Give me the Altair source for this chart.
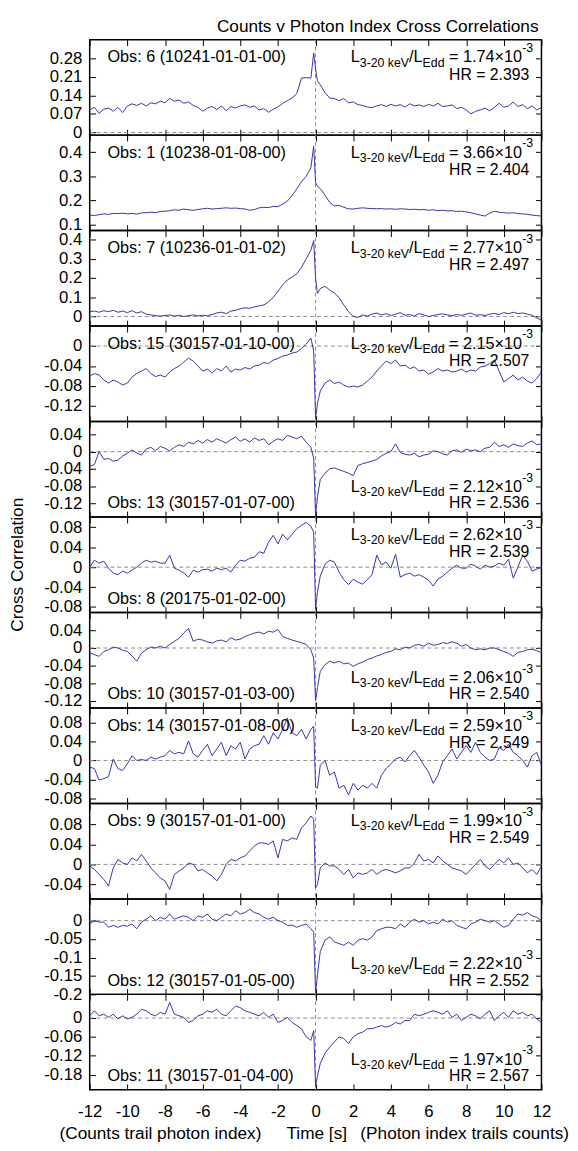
import altair as alt
import pandas as pd

FONT = "Liberation Sans"
BLUE = "#3434a8"
GRAY = "#8c8c8c"

# sample times (s): 0.25 s grid plus two extra samples around the zero lag
TIME = [-12 + 0.25 * i for i in range(48)] + [-0.1, 0.0, 0.1] + [0.25 + 0.25 * i for i in range(48)]
X_TICKS = [-12, -10, -8, -6, -4, -2, 0, 2, 4, 6, 8, 10, 12]

obs6 = [0.085,0.095,0.072,0.088,0.092,0.080,0.095,0.075,0.100,0.108,0.102,0.110,0.100,
        0.112,0.108,0.118,0.112,0.128,0.118,0.122,0.110,0.115,0.102,0.095,0.080,
        0.092,0.098,0.086,0.100,0.082,0.098,0.092,0.100,0.104,0.095,0.100,0.085,
        0.090,0.076,0.088,0.096,0.110,0.120,0.130,0.146,0.205,0.207,0.205,
        0.300,0.240,0.195,
        0.180,0.150,0.130,0.128,0.120,0.128,0.112,0.115,0.105,0.102,0.096,0.094,
        0.100,0.105,0.098,0.106,0.100,0.105,0.096,0.108,0.100,0.104,0.098,0.106,
        0.100,0.110,0.098,0.100,0.104,0.090,0.095,0.085,0.070,0.080,0.085,0.092,
        0.082,0.095,0.110,0.095,0.100,0.115,0.098,0.105,0.090,0.100,0.085,0.095]
obs1 = [0.140,0.138,0.142,0.145,0.143,0.147,0.146,0.148,0.145,0.147,0.144,0.149,0.150,
        0.152,0.150,0.155,0.156,0.158,0.162,0.160,0.165,0.162,0.160,0.163,0.166,
        0.168,0.165,0.167,0.168,0.170,0.168,0.169,0.167,0.165,0.160,0.163,0.170,
        0.172,0.171,0.176,0.175,0.185,0.198,0.220,0.248,0.278,0.300,0.335,
        0.425,0.275,0.258,
        0.250,0.222,0.192,0.178,0.180,0.172,0.166,0.165,0.168,0.170,0.168,0.167,
        0.166,0.167,0.165,0.166,0.164,0.166,0.165,0.163,0.164,0.162,0.163,0.160,
        0.162,0.158,0.160,0.157,0.158,0.155,0.156,0.153,0.150,0.145,0.140,0.136,
        0.148,0.156,0.152,0.150,0.148,0.150,0.146,0.145,0.143,0.140,0.138,0.136]
obs7 = [0.025,0.028,0.022,0.030,0.025,0.032,0.022,0.028,0.020,0.030,0.018,0.025,0.012,
        0.008,0.004,0.002,0.005,0.008,0.002,0.006,0.000,0.004,0.008,0.003,0.006,
        0.004,0.010,0.018,0.022,0.015,0.028,0.032,0.040,0.045,0.042,0.050,0.055,
        0.060,0.075,0.100,0.130,0.165,0.190,0.205,0.222,0.255,0.300,0.345,
        0.395,0.200,0.120,
        0.145,0.157,0.138,0.122,0.098,0.060,0.025,0.000,-0.005,0.008,0.002,0.012,
        0.018,0.008,0.015,0.005,0.012,0.020,0.006,0.010,0.002,0.015,0.008,0.000,
        0.005,0.010,0.014,0.008,0.004,0.010,0.006,0.012,0.018,0.006,0.010,0.004,
        0.012,0.016,0.010,0.020,0.014,0.022,0.015,0.018,0.012,0.006,-0.008,-0.020]
obs15 = [-0.060,-0.055,-0.058,-0.068,-0.074,-0.068,-0.072,-0.078,-0.074,-0.062,-0.055,-0.050,-0.045,
         -0.055,-0.061,-0.058,-0.062,-0.052,-0.045,-0.040,-0.032,-0.024,-0.030,-0.040,-0.050,
         -0.046,-0.054,-0.045,-0.050,-0.040,-0.052,-0.046,-0.048,-0.043,-0.046,-0.040,-0.038,
         -0.033,-0.035,-0.028,-0.025,-0.020,-0.018,-0.014,-0.012,-0.005,0.004,0.016,
         -0.010,-0.145,-0.115,
         -0.090,-0.074,-0.068,-0.075,-0.072,-0.078,-0.082,-0.080,-0.082,-0.078,-0.070,-0.062,
         -0.050,-0.040,-0.030,-0.035,-0.028,-0.040,-0.038,-0.045,-0.042,-0.050,-0.048,-0.056,
         -0.052,-0.045,-0.050,-0.048,-0.052,-0.050,-0.046,-0.052,-0.048,-0.050,-0.042,-0.040,
         -0.035,-0.028,-0.050,-0.072,-0.065,-0.058,-0.068,-0.062,-0.070,-0.074,-0.065,-0.052]
obs13 = [-0.034,-0.030,0.000,-0.018,-0.016,-0.022,-0.020,-0.010,-0.004,0.004,-0.003,-0.008,0.006,
         0.010,0.002,0.012,0.008,0.002,0.010,0.016,0.012,0.022,0.018,0.026,0.020,
         0.028,0.022,0.030,0.025,0.020,0.028,0.034,0.024,0.030,0.022,0.032,0.026,
         0.030,0.016,0.024,0.030,0.026,0.038,0.034,0.030,0.036,0.022,0.010,
         -0.015,-0.150,-0.105,
         -0.065,-0.050,-0.040,-0.038,-0.042,-0.046,-0.050,-0.056,-0.032,-0.028,-0.025,-0.022,
         -0.018,-0.010,-0.004,0.000,0.018,-0.002,-0.006,-0.008,-0.004,-0.012,-0.008,-0.006,
         0.002,0.000,-0.005,-0.008,0.002,0.004,-0.002,0.006,0.002,0.004,0.000,0.008,
         0.010,0.022,0.012,0.016,0.010,0.018,0.014,0.012,0.020,0.025,0.016,0.018]
obs8 = [0.000,0.014,0.008,0.012,-0.002,-0.012,-0.015,-0.008,-0.012,-0.006,0.000,0.008,0.014,
        0.010,0.012,0.008,0.008,0.024,-0.002,-0.006,-0.012,-0.020,-0.006,-0.010,-0.005,
        -0.004,-0.008,-0.002,-0.005,-0.002,-0.010,0.004,0.014,0.012,0.018,0.020,0.031,
        0.028,0.050,0.064,0.047,0.066,0.055,0.066,0.077,0.084,0.090,0.082,
        0.070,-0.085,-0.050,
        -0.018,0.006,0.014,0.010,-0.010,-0.025,-0.035,-0.024,-0.030,-0.034,-0.025,-0.015,
        0.024,0.005,0.010,-0.002,0.026,-0.020,-0.015,-0.012,-0.018,-0.015,-0.020,-0.026,
        -0.038,-0.024,-0.018,-0.010,-0.002,0.004,-0.002,-0.002,0.006,0.002,-0.004,0.004,
        0.000,0.002,0.008,0.004,0.016,-0.022,0.000,0.024,0.012,-0.008,-0.004,0.000]
obs10 = [-0.011,-0.015,-0.019,-0.008,-0.004,0.002,0.000,-0.005,-0.008,-0.018,-0.030,-0.012,-0.004,
         0.002,0.000,0.004,0.000,0.008,0.015,0.022,0.034,0.044,0.015,0.020,0.018,
         0.014,0.011,0.016,0.018,0.014,0.023,0.018,0.020,0.026,0.030,0.034,0.036,
         0.032,0.038,0.036,0.042,0.026,0.022,0.018,0.015,0.012,0.008,-0.004,
         -0.023,-0.120,-0.090,
         -0.053,-0.038,-0.030,-0.034,-0.030,-0.036,-0.034,-0.042,-0.036,-0.032,-0.026,-0.023,
         -0.018,-0.015,-0.010,-0.008,-0.002,-0.004,0.002,0.000,0.006,0.008,0.004,0.011,
         0.006,0.008,0.012,0.010,0.014,0.011,0.004,0.008,0.000,-0.004,-0.002,-0.004,
         0.000,0.000,-0.004,-0.008,-0.012,-0.019,-0.010,-0.008,-0.004,-0.003,-0.006,-0.011]
obs14 = [-0.014,-0.017,-0.041,-0.038,-0.034,0.003,-0.017,-0.021,-0.007,0.010,0.000,0.002,0.000,
         0.007,0.003,0.007,0.010,0.021,0.014,0.017,0.014,0.041,0.014,0.007,0.021,
         0.034,0.010,0.024,0.038,0.010,0.031,0.024,0.038,0.003,0.024,0.031,0.034,
         0.052,0.034,0.058,0.045,0.065,0.089,0.058,0.052,0.065,0.045,0.065,
         0.072,-0.055,-0.058,
         -0.010,0.000,-0.031,-0.024,-0.058,-0.052,-0.072,-0.048,-0.062,-0.052,-0.058,-0.048,
         -0.058,-0.031,-0.017,-0.007,0.003,0.007,-0.003,0.010,0.021,0.007,-0.010,-0.024,
         -0.048,-0.031,-0.003,0.010,0.024,0.003,0.017,0.031,0.017,0.038,0.017,0.007,
         0.000,0.003,0.027,0.021,0.034,0.017,0.010,0.000,-0.014,0.010,0.017,-0.010]
obs9 = [-0.003,-0.010,-0.020,-0.030,-0.043,-0.007,0.010,0.003,0.000,0.013,0.007,0.020,0.007,
        -0.007,-0.017,-0.027,-0.033,-0.050,-0.020,-0.013,-0.007,0.003,0.000,-0.013,-0.010,
        -0.017,-0.023,-0.033,-0.020,0.000,0.010,0.007,0.013,0.017,0.027,0.037,0.043,
        0.043,0.040,0.047,0.013,0.050,0.047,0.053,0.050,0.073,0.083,0.097,
        0.090,-0.047,-0.040,
        -0.007,0.003,-0.003,-0.003,-0.010,-0.020,-0.010,-0.027,-0.017,-0.020,-0.017,-0.010,
        -0.020,-0.013,-0.010,-0.013,-0.017,-0.013,-0.007,-0.007,0.003,0.020,0.007,0.010,
        0.003,0.017,0.007,0.000,-0.007,-0.010,-0.013,-0.020,-0.010,0.000,0.010,-0.003,
        -0.010,0.000,0.010,0.003,0.013,0.000,0.003,-0.007,-0.017,-0.010,-0.020,-0.003]
obs12 = [-0.009,0.000,-0.004,-0.004,-0.018,-0.013,-0.018,-0.013,-0.015,-0.009,-0.022,-0.004,0.004,
         0.013,0.000,0.009,0.004,0.018,0.004,0.009,0.013,0.009,0.000,0.013,0.009,
         0.018,0.004,0.000,0.009,0.018,0.013,0.027,0.018,0.022,0.031,0.022,0.018,
         0.009,0.004,0.009,0.000,-0.004,-0.013,-0.012,-0.018,-0.013,-0.009,-0.022,
         -0.031,-0.196,-0.147,
         -0.084,-0.053,-0.044,-0.058,-0.062,-0.067,-0.058,-0.067,-0.053,-0.049,-0.053,-0.044,
         -0.027,-0.022,-0.018,-0.018,-0.022,-0.009,-0.018,-0.004,0.004,-0.004,0.000,-0.009,
         -0.004,-0.009,0.004,-0.004,0.000,-0.013,-0.018,-0.022,-0.009,-0.004,0.004,0.000,
         -0.004,0.000,-0.009,-0.018,-0.013,0.004,0.018,0.015,0.022,0.013,0.009,0.000]
obs11 = [0.007,0.023,0.007,0.012,0.002,0.012,-0.003,0.007,-0.003,0.002,0.012,0.028,0.023,
         0.012,0.007,0.018,0.012,0.049,0.012,0.007,0.002,-0.014,-0.008,0.007,0.012,
         0.023,0.018,0.028,0.012,0.007,0.023,0.038,0.033,0.023,0.018,0.012,0.007,
         0.018,0.002,0.012,-0.014,-0.008,0.002,-0.014,-0.024,-0.034,-0.060,-0.071,
         -0.040,-0.216,-0.185,
         -0.144,-0.112,-0.092,-0.076,-0.060,-0.065,-0.081,-0.060,-0.050,-0.045,-0.034,-0.034,
         -0.029,-0.024,-0.029,-0.024,-0.014,-0.019,-0.008,-0.008,0.012,0.007,0.012,0.018,
         0.023,0.018,0.012,0.023,0.002,0.012,-0.008,0.002,0.012,0.007,-0.003,0.012,
         0.023,-0.008,0.007,0.018,0.002,0.023,0.012,0.018,0.007,0.012,-0.003,-0.014]

SERIES = [obs6, obs1, obs7, obs15, obs13, obs8, obs10, obs14, obs9, obs12, obs11]
OBS_LABELS = ["Obs: 6 (10241-01-01-00)", "Obs: 1 (10238-01-08-00)", "Obs: 7 (10236-01-01-02)",
              "Obs: 15 (30157-01-10-00)", "Obs: 13 (30157-01-07-00)", "Obs: 8 (20175-01-02-00)",
              "Obs: 10 (30157-01-03-00)", "Obs: 14 (30157-01-08-00)", "Obs: 9 (30157-01-01-00)",
              "Obs: 12 (30157-01-05-00)", "Obs: 11 (30157-01-04-00)"]
LUM = ["1.74", "3.66", "2.77", "2.15", "2.12", "2.62", "2.06", "2.59", "1.99", "2.22", "1.97"]
HR = ["2.393", "2.404", "2.497", "2.507", "2.536", "2.539", "2.540", "2.549", "2.549", "2.552", "2.567"]
Y_DOMAINS = [[-0.01, 0.35], [0.076, 0.47], [-0.05, 0.447], [-0.151, 0.04], [-0.152, 0.07],
             [-0.091, 0.1007], [-0.136, 0.0805], [-0.09, 0.11], [-0.069, 0.122], [-0.2, 0.059],
             [-0.228, 0.075]]
Y_TICKS = [[0, 0.07, 0.14, 0.21, 0.28], [0.1, 0.2, 0.3, 0.4], [0, 0.1, 0.2, 0.3, 0.4],
           [-0.12, -0.08, -0.04, 0], [-0.12, -0.08, -0.04, 0, 0.04], [-0.08, -0.04, 0, 0.04, 0.08],
           [-0.12, -0.08, -0.04, 0, 0.04], [-0.08, -0.04, 0, 0.04, 0.08], [-0.04, 0, 0.04, 0.08],
           [-0.2, -0.15, -0.1, -0.05, 0], [-0.18, -0.12, -0.06, 0]]
OBS_AT_TOP = [True, True, True, True, False, False, False, True, True, False, False]
INFO_AT_TOP = [True, True, True, True, False, True, False, True, True, False, False]

for s in SERIES:
    if len(s) != len(TIME):
        raise ValueError(f"series length {len(s)} != {len(TIME)}")

W, H = 459, 97
ONE = pd.DataFrame({"k": [0]})

CW = {".": .278, "-": .333, " ": .278, "L": .556, "k": .5, "e": .556, "V": .667, "/": .278,
      "E": .667, "d": .556, "=": .584, "\u00d7": .584, "H": .722, "R": .722}


def tw(s, size):
    return sum(CW.get(c, .556) for c in s) * size


def txt(text, x, y, size, align="left", baseline="alphabetic", angle=None):
    kw = dict(align=align, baseline=baseline, font=FONT, fontSize=size, color="black")
    if angle is not None:
        kw["angle"] = angle
    return alt.Chart(ONE).mark_text(**kw).encode(
        x=alt.value(x), y=alt.value(y), text=alt.value(text))


def info_block(lum, hr, top):
    main, small = 16.5, 12.5
    if top:
        b, bh = 23, 40.5
    else:
        b, bh = H - 25.5, H - 9
    pieces = [("L", main, 0), ("3-20 keV", small, 4.5), ("/L", main, 0), ("Edd", small, 4.5),
              (None, main, 0), (f"= {lum}\u00d710", main, 0), ("-3", small, -10.5)]
    total = sum(tw(s if s else " ", fs) for s, fs, _ in pieces)
    x = 450.5 - total
    out = []
    for s, fs, dy in pieces:
        if s:
            out.append(txt(s, x, b + dy, fs))
        x += tw(s if s else " ", fs)
    out.append(txt(f"HR = {hr}", 446.5, bh, 16, align="right"))
    return out


def panel(i):
    df = pd.DataFrame({"t": TIME, "v": SERIES[i]})
    dom = Y_DOMAINS[i]
    last = i == len(SERIES) - 1
    xsc = alt.Scale(domain=[-12, 12], nice=False, zero=False)
    ysc = alt.Scale(domain=dom, nice=False, zero=False)
    common = dict(offset=-6, tickSize=6, domain=False, grid=False, title=None,
                  labelFlush=False, labelOverlap=False, labelExpr="'' + datum.value",
                  tickColor="black", tickWidth=1, labelColor="black", labelFont=FONT,
                  labelFontSize=17, minExtent=0)
    xb = alt.Axis(orient="bottom", values=X_TICKS, labels=last, labelPadding=14, **common)
    xt = alt.Axis(orient="top", values=X_TICKS, labels=False, **common)
    yl = alt.Axis(orient="left", values=Y_TICKS[i], labels=True, labelPadding=8, **common)
    yr = alt.Axis(orient="right", values=Y_TICKS[i], labels=False, **common)

    layers = [alt.Chart(ONE).mark_rule(color=GRAY, strokeDash=[4, 3], strokeWidth=1).encode(
        x=alt.XDatum(0, scale=xsc, axis=None))]
    if dom[0] < 0 < dom[1]:
        layers.append(alt.Chart(ONE).mark_rule(color=GRAY, strokeDash=[4, 3], strokeWidth=1).encode(
            y=alt.YDatum(0, scale=ysc, axis=None)))
    layers.append(alt.Chart(df).mark_line(color=BLUE, strokeWidth=1, clip=True).encode(
        x=alt.X("t:Q", scale=xsc, axis=xb), y=alt.Y("v:Q", scale=ysc, axis=yl)))
    layers.append(alt.Chart(df).mark_point(opacity=0, size=1).encode(
        x=alt.X("t:Q", scale=xsc, axis=xt), y=alt.Y("v:Q", scale=ysc, axis=yr)))

    layers.append(txt(OBS_LABELS[i], 18, 23 if OBS_AT_TOP[i] else H - 9, 16.5))
    layers += info_block(LUM[i], HR[i], INFO_AT_TOP[i])

    if i == 0:
        layers.append(txt("Counts v Photon Index Cross Correlations", 456, -8, 17.5, align="right"))
    if i == 5:
        layers.append(txt("Cross Correlation", -73, H / 2, 17.5, align="center",
                          baseline="middle", angle=270))
    if last:
        layers.append(txt("(Counts trail photon index)", -30.7, H + 50, 17.5))
        layers.append(txt("Time [s]", 230.7, H + 50, 17.5, align="center"))
        layers.append(txt("(Photon index trails counts)", 487, H + 50, 17.5, align="right"))

    return alt.layer(*layers).resolve_scale(x="independent", y="independent").properties(
        width=W, height=H)


chart = alt.vconcat(*[panel(i) for i in range(len(SERIES))], spacing=0, bounds="flush").properties(
    padding=0
).configure(font=FONT).configure_view(stroke="black", strokeWidth=1.5)

chart.save("out.html", embed_options={"renderer": "svg", "actions": False})
